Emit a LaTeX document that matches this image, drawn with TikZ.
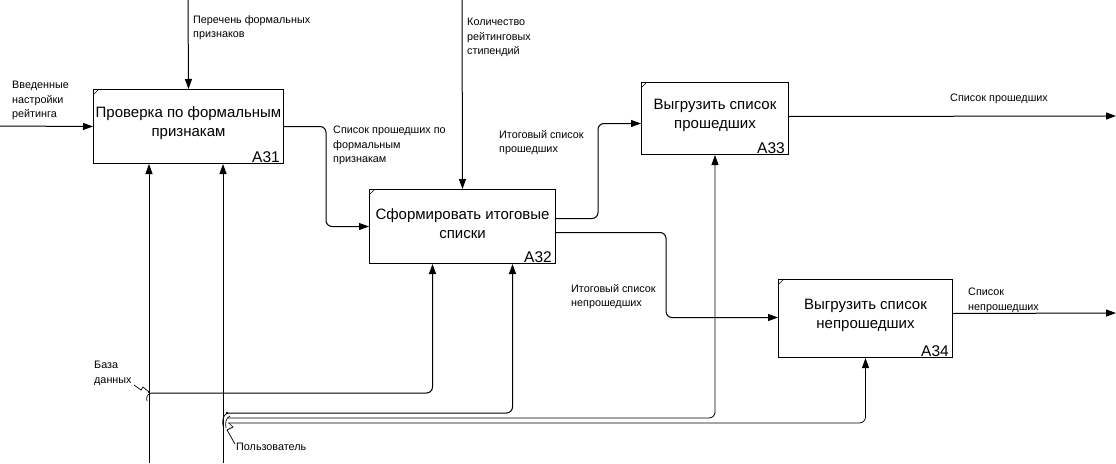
\documentclass[tikz,border=0pt]{standalone}
\usepackage{fontspec}
\setmainfont{Liberation Sans}
\usetikzlibrary{arrows.meta}
\begin{document}
\begin{tikzpicture}[x=1pt,y=-1pt,
    proc/.style={draw, line width=1pt, anchor=north west, inner sep=0pt,
        path picture={\draw[line width=0.6pt] ([yshift=-5pt]path picture bounding box.north west) -- ([xshift=5pt]path picture bounding box.north west);}},
    ptxt/.style={font=\fontsize{15}{19}\selectfont, align=center, inner sep=0pt},
    pnum/.style={font=\fontsize{15.5}{17}\selectfont, anchor=south east, inner xsep=4pt, inner ysep=1pt},
    lbl/.style={font=\fontsize{10.8}{14.5}\selectfont, align=left, anchor=north west, inner sep=0pt},
    arr/.style={line width=1pt, -{Triangle[length=10pt,width=7pt]}, rounded corners=6pt},
    tun/.style={line width=0.7pt}]
    \useasboundingbox (0,0) rectangle (1116,463);

    % Блоки
    \node[proc, minimum width=190pt, minimum height=74pt] (a31) at (93,89) {};
    \node[ptxt] (a31t) at ([yshift=3pt]a31.center) {Проверка по формальным\\признакам};
    \node[pnum] (a31n) at (a31.south east) {A31};

    \node[proc, minimum width=186pt, minimum height=74pt] (a32) at (369,189) {};
    \node[ptxt] (a32t) at ([yshift=3pt]a32.center) {Сформировать итоговые\\списки};
    \node[pnum] (a32n) at (a32.south east) {A32};

    \node[proc, minimum width=147pt, minimum height=72pt] (a33) at (641,82) {};
    \node[ptxt] (a33t) at ([yshift=3pt]a33.center) {Выгрузить список\\прошедших};
    \node[pnum] (a33n) at (a33.south east) {A33};

    \node[proc, minimum width=174pt, minimum height=78pt] (a34) at (778,279) {};
    \node[ptxt] (a34t) at ([yshift=3pt]a34.center) {Выгрузить список\\непрошедших};
    \node[pnum] (a34n) at (a34.south east) {A34};

    % Входы
    \coordinate (inA) at (0,126);
    \draw[arr] (inA) -- (a31.west);
    \node[lbl] (inAl) at (12,81) {Введенные\\настройки\\рейтинга};

    \draw[arr] (a31.east) -- ++(42,0) |- (a32.west);
    \node[lbl] (a31o) at (333,126) {Список прошедших по\\формальным\\признакам};

    \draw[arr] ([yshift=8pt]a32.east) -- ++(42,0) |- ([yshift=-5pt]a33.west);
    \node[lbl] (a32o) at (499,130) {Итоговый список\\прошедших};

    \draw[arr] ([yshift=-6pt]a32.east) -- ++(110,0) |- ([yshift=1pt]a34.west);
    \node[lbl] (a32p) at (571,284) {Итоговый список\\непрошедших};

    % Выходы
    \coordinate (outA) at (1116,116);
    \draw[arr] ([yshift=2pt]a33.east) -- (outA);
    \node[lbl] (outAl) at (950,94) {Список прошедших};

    \coordinate (outB) at (1116,313);
    \draw[arr] ([yshift=5pt]a34.east) -- (outB);
    \node[lbl] (outBl) at (968,288) {Список\\непрошедших};

    % Управление
    \coordinate (ctlA) at (188,0);
    \draw[arr] (ctlA) -- (a31.north);
    \node[lbl] (ctlAl) at (193,15) {Перечень формальных\\признаков};

    \coordinate (ctlB) at (462,0);
    \draw[arr] (ctlB) -- (a32.north);
    \node[lbl] (ctlBl) at (467,18) {Количество\\рейтинговых\\стипендий};

    % Механизмы: База данных
    \coordinate (db) at (149,463);
    \coordinate (dbj) at (151,393);
    \draw[arr] (db) -- (db |- a31.south);
    \draw[arr] (dbj) -| ([xshift=-30pt]a32.south);
    \fill (149,392) circle (1.2);
    \draw[tun] (134,385) -- (141,390) -- (143,387) -- (149,392);
    \draw[tun] (151,393) .. controls (147,395) and (146,397) .. (147,401);
    \node[lbl] (dbl) at (94,361) {База\\данных};

    % Механизмы: Пользователь
    \coordinate (usr) at (223,463);
    \coordinate (usrA) at (228,413);
    \coordinate (usrB) at (228,418);
    \coordinate (usrC) at (228,423);
    \draw[arr] (usr) -- (usr |- a31.south);
    \draw[arr] (usrA) -| ([xshift=50pt]a32.south);
    \draw[arr, line width=0.8pt] (usrB) -| (a33.south);
    \draw[arr, line width=0.8pt] (usrC) -| (a34.south);
    \fill (227,413) circle (1.3);
    \draw[tun] (227,413) .. controls (223,416) and (222,420) .. (223,426);
    \draw[tun] (230,416) .. controls (226,418) and (225,422) .. (226,428);
    \draw[tun] (229,423) -- (233,427) -- (227,430) -- (235,444);
    \node[lbl] (usrl) at (236,443) {Пользователь};
\end{tikzpicture}
\end{document}
